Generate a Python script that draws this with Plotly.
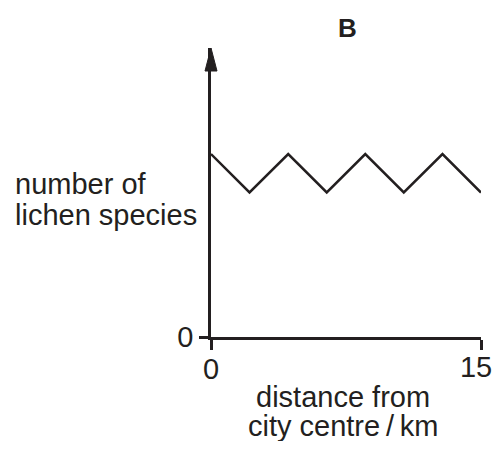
import plotly.graph_objects as go

# data
distance_km = [0, 2.14, 4.29, 6.43, 8.57, 10.71, 12.86, 15]
lichen_species = [10, 7.9, 10, 7.9, 10, 7.9, 10, 7.9]
x_ticks = [0, 15]
y_ticks = [0]
title_text = "B"
y_label_lines = ["number of", "lichen species"]
x_label_lines = ["distance from", "city centre\u2009/\u2009km"]

OFF = 8  # page body margin
W, H = 501 - 2 * OFF, 449 - 2 * OFF
L = 211 - OFF
T = 48 - OFF
R = W - (481 - OFF)
B = H - (337 - OFF)
PW, PH = W - L - R, H - T - B
INK = "#231f20"
FONT = "Liberation Sans, Arial, sans-serif"
FS = 29


def px(xp):
    return (xp - OFF - L) / PW


def py(yp):
    return (H - B - (yp - OFF)) / PH


fig = go.Figure()
fig.add_trace(go.Scatter(x=distance_km, y=lichen_species, mode="lines",
                         line=dict(color=INK, width=2.5), hoverinfo="skip"))

fig.update_layout(
    width=W, height=H, margin=dict(l=L, r=R, t=T, b=B, autoexpand=False),
    plot_bgcolor="white", paper_bgcolor="white", showlegend=False,
    font=dict(family=FONT, color=INK, size=FS),
)
axis_common = dict(showgrid=False, zeroline=False, automargin=False,
                   ticklabeloverflow="allow", tickwidth=2.5, tickcolor=INK,
                   tickfont=dict(size=FS, color=INK, family=FONT))
# main x axis: line, both ticks, label of the first tick
fig.update_xaxes(range=[0, 15], tickvals=x_ticks,
                 ticktext=[str(x_ticks[0])] + [""] * (len(x_ticks) - 1),
                 showline=True, linecolor=INK, linewidth=2.5, ticks="outside",
                 ticklen=10, ticklabelstandoff=-6, **axis_common)
# overlay axis carrying the last tick label, nudged to stay inside the page
fig.update_layout(xaxis2=dict(range=[0, 15], overlaying="x", anchor="y", side="bottom",
                              tickvals=x_ticks[1:], ticktext=[str(v) for v in x_ticks[1:]],
                              showline=False, ticks="outside", ticklen=10,
                              ticklabelstandoff=-6, ticklabelshift=-5,
                              **{**axis_common, "tickcolor": "rgba(0,0,0,0)"}))
fig.add_trace(go.Scatter(x=[], y=[], xaxis="x2", yaxis="y", showlegend=False))
fig.update_yaxes(range=[0, 15.8], tickvals=y_ticks, ticktext=[str(v) for v in y_ticks],
                 showline=True, linecolor=INK, linewidth=2.5, ticks="outside",
                 ticklen=9, **axis_common)

# arrow head on the y axis
fig.add_shape(type="path", xref="paper", yref="paper",
              path=f"M {px(211)} {py(48)} L {px(205)} {py(71)} L {px(217)} {py(71)} Z",
              fillcolor=INK, line=dict(color=INK, width=1))

fig.add_annotation(text=f"<b>{title_text}</b>", xref="paper", yref="paper",
                   x=px(347.5), y=py(28), xanchor="center", yanchor="middle",
                   showarrow=False, font=dict(size=26, color=INK, family=FONT))

for line, yc in zip(y_label_lines, [184, 215]):
    fig.add_annotation(text=line, xref="paper", yref="paper", x=px(13), y=py(yc),
                       xanchor="left", yanchor="middle", showarrow=False,
                       font=dict(size=FS, color=INK, family=FONT))

for line, yc in zip(x_label_lines, [397, 426]):
    fig.add_annotation(text=line, xref="paper", yref="paper", x=px(343), y=py(yc),
                       xanchor="center", yanchor="middle", showarrow=False,
                       font=dict(size=FS, color=INK, family=FONT))

fig.write_html("out.html")
